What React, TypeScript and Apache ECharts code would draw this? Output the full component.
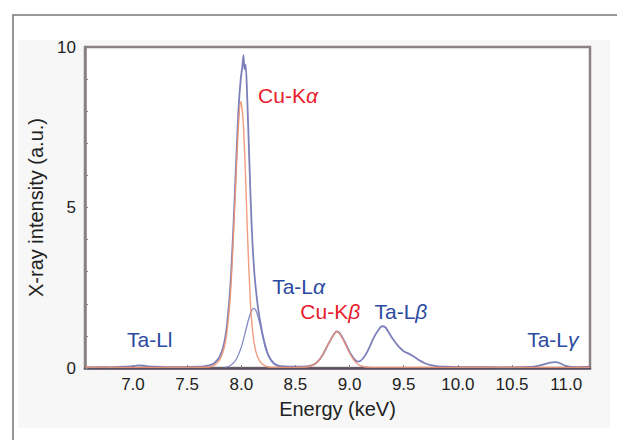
import React, { useEffect, useRef } from "react";
import * as echarts from "echarts";

// Measured (total) spectrum, blue
const totalEnergy = [
  6.56, 6.7, 6.8, 6.9, 7.0, 7.05, 7.1, 7.15, 7.2, 7.3, 7.4, 7.5, 7.6, 7.65,
  7.7, 7.75, 7.8, 7.84, 7.87, 7.9, 7.93, 7.955, 7.975, 7.995, 8.01, 8.02, 8.03, 8.04,
  8.055, 8.075, 8.095, 8.12, 8.15, 8.18, 8.21, 8.25, 8.3, 8.35, 8.4, 8.5, 8.6,
  8.65, 8.7, 8.75, 8.8, 8.85, 8.88, 8.91, 8.95, 9.0, 9.05, 9.08, 9.12, 9.17,
  9.22, 9.26, 9.3, 9.33, 9.36, 9.4, 9.45, 9.5, 9.55, 9.6, 9.65, 9.7, 9.75, 9.8,
  9.9, 10.0, 10.2, 10.4, 10.6, 10.7, 10.78, 10.85, 10.9, 10.95, 11.0, 11.1, 11.22,
];
const totalIntensity = [
  0.02, 0.03, 0.02, 0.04, 0.06, 0.08, 0.07, 0.05, 0.04, 0.03, 0.03, 0.03, 0.04, 0.05,
  0.08, 0.15, 0.35, 0.75, 1.4, 2.6, 4.6, 6.6, 8.1, 9.0, 9.4, 9.75, 9.3, 9.45,
  8.4, 6.4, 4.5, 3.0, 2.0, 1.35, 0.85, 0.4, 0.15, 0.07, 0.05, 0.04, 0.05,
  0.08, 0.18, 0.4, 0.72, 1.02, 1.14, 1.08, 0.85, 0.5, 0.25, 0.2, 0.28, 0.55,
  0.92, 1.15, 1.3, 1.27, 1.12, 0.9, 0.68, 0.52, 0.44, 0.34, 0.23, 0.14, 0.09, 0.06,
  0.04, 0.03, 0.03, 0.02, 0.03, 0.04, 0.1, 0.17, 0.18, 0.14, 0.06, 0.03, 0.04,
];

// Cu component, red
const cuEnergy = [
  6.56, 7.0, 7.5, 7.7, 7.75, 7.8, 7.84, 7.87, 7.9, 7.93, 7.955, 7.975, 7.995,
  8.015, 8.035, 8.055, 8.075, 8.095, 8.12, 8.15, 8.19, 8.24, 8.3, 8.5, 8.6,
  8.65, 8.7, 8.75, 8.8, 8.85, 8.88, 8.91, 8.95, 9.0, 9.05, 9.1, 9.2, 10.0, 11.22,
];
const cuIntensity = [
  0.02, 0.02, 0.02, 0.03, 0.08, 0.25, 0.6, 1.2, 2.3, 4.3, 6.2, 7.6, 8.3,
  7.8, 6.4, 4.4, 2.7, 1.5, 0.75, 0.35, 0.13, 0.04, 0.02, 0.02, 0.03,
  0.07, 0.17, 0.4, 0.72, 1.02, 1.13, 1.06, 0.82, 0.47, 0.2, 0.07, 0.02, 0.02, 0.02,
];

// Ta-Lα component, blue
const taEnergy = [
  7.85, 7.9, 7.95, 8.0, 8.04, 8.07, 8.1, 8.12, 8.14, 8.17, 8.2, 8.23, 8.27, 8.31, 8.36,
];
const taIntensity = [
  0.02, 0.08, 0.25, 0.65, 1.15, 1.55, 1.82, 1.86, 1.75, 1.4, 0.95, 0.55, 0.25, 0.1, 0.03,
];

const xTickValues = [7.0, 7.5, 8.0, 8.5, 9.0, 9.5, 10.0, 10.5, 11.0];
const yTickLabels = ["0", "5", "10"];

// Peak annotations
const annotationText = ["Cu-K", "Ta-L", "Cu-K", "Ta-L", "Ta-L", "Ta-Ll"];
const annotationGreek = ["α", "α", "β", "β", "γ", ""];
const annotationEnergy = [8.155, 8.285, 8.545, 9.23, 10.64, 6.945];
const annotationIntensity = [8.5, 2.55, 1.75, 1.75, 0.9, 0.9];
const annotationRed = [true, false, true, false, false, false];

const zip = (xs: number[], ys: number[]) => xs.map((x, i) => [x, ys[i]]);

const FONT = "'Liberation Sans', Arial, Helvetica, sans-serif";
const RED = "#e8202c";
const BLUE = "#2b4aa0";

export default function App() {
  const ref = useRef<HTMLDivElement>(null);
  useEffect(() => {
    document.body.style.margin = "0";
    if (!ref.current) return;
    const chart = echarts.init(ref.current, null, { renderer: "svg" });
    const option: any = {
      animation: false,
      backgroundColor: "#ffffff",
      grid: {
        left: 85,
        right: 27,
        top: 47,
        bottom: 72,
        show: true,
        borderColor: "#8a8282",
        borderWidth: 2.5,
        backgroundColor: "#ffffff",
      },
      xAxis: {
        type: "value",
        min: 6.557,
        max: 11.22,
        name: "Energy (keV)",
        nameLocation: "middle",
        nameGap: 31,
        nameTextStyle: { fontFamily: FONT, fontSize: 20, color: "#222" },
        axisLine: { show: true, lineStyle: { color: "#5a5060", width: 2.5 } },
        axisTick: {
          show: true,
          inside: true,
          length: 3,
          customValues: xTickValues,
          lineStyle: { color: "#8a8282" },
        },
        axisLabel: {
          customValues: xTickValues,
          formatter: (v: number) => v.toFixed(1),
          fontFamily: FONT,
          fontSize: 17,
          color: "#222",
          margin: 8,
        },
        splitLine: { show: false },
      },
      yAxis: {
        type: "value",
        min: 0,
        max: 10,
        interval: 1,
        name: "X-ray intensity (a.u.)",
        nameLocation: "middle",
        nameGap: 29,
        nameRotate: 90,
        nameTextStyle: { fontFamily: FONT, fontSize: 20, color: "#222" },
        axisLine: { show: true, lineStyle: { color: "#8a8282", width: 2.5 } },
        axisTick: { show: true, inside: true, length: 3, lineStyle: { color: "#8a8282" } },
        axisLabel: {
          formatter: (v: number) => (yTickLabels.includes(String(v)) ? String(v) : ""),
          fontFamily: FONT,
          fontSize: 17,
          color: "#222",
          margin: 9,
        },
        splitLine: { show: false },
      },
      series: [
        {
          type: "line",
          data: zip(totalEnergy, totalIntensity),
          showSymbol: false,
          smooth: 0.3,
          lineStyle: { color: "#5c60a8", width: 1.8, opacity: 0.8 },
          z: 2,
        },
        {
          type: "line",
          data: zip(taEnergy, taIntensity),
          showSymbol: false,
          smooth: 0.3,
          lineStyle: { color: "#7a7fc0", width: 1.3, opacity: 0.9 },
          z: 3,
        },
        {
          type: "line",
          data: zip(cuEnergy, cuIntensity),
          showSymbol: false,
          smooth: 0.3,
          lineStyle: { color: "#ee9272", width: 1.4, opacity: 0.9 },
          z: 4,
        },
      ],
    };
    chart.setOption(option);

    const texts = annotationText.map((t, i) => {
      const p = chart.convertToPixel({ gridIndex: 0 }, [
        annotationEnergy[i],
        annotationIntensity[i],
      ]) as number[];
      const color = annotationRed[i] ? RED : BLUE;
      return {
        type: "text",
        x: p[0],
        y: p[1],
        z: 10,
        style: {
          text: annotationGreek[i] ? `{n|${t}}{g|${annotationGreek[i]}}` : `{n|${t}}`,
          verticalAlign: "middle",
          align: "left",
          rich: {
            n: { fontFamily: FONT, fontSize: 21, fill: color, color },
            g: { fontFamily: FONT, fontSize: 21, fontStyle: "italic", fill: color, color },
          },
        },
      };
    });

    chart.setOption({
      graphic: [
        {
          type: "rect",
          z: -10,
          silent: true,
          shape: { x: 18, y: 40, width: 592, height: 388 },
          style: { fill: "#f7f7f7" },
        },
        {
          type: "polyline",
          z: 5,
          silent: true,
          shape: { points: [[13, 445], [13, 15], [620, 15]] },
          style: { stroke: "#777", lineWidth: 1.5, fill: null },
        },
        ...texts,
      ],
    });

    return () => chart.dispose();
  }, []);
  return <div ref={ref} style={{ width: 617, height: 440 }} />;
}
